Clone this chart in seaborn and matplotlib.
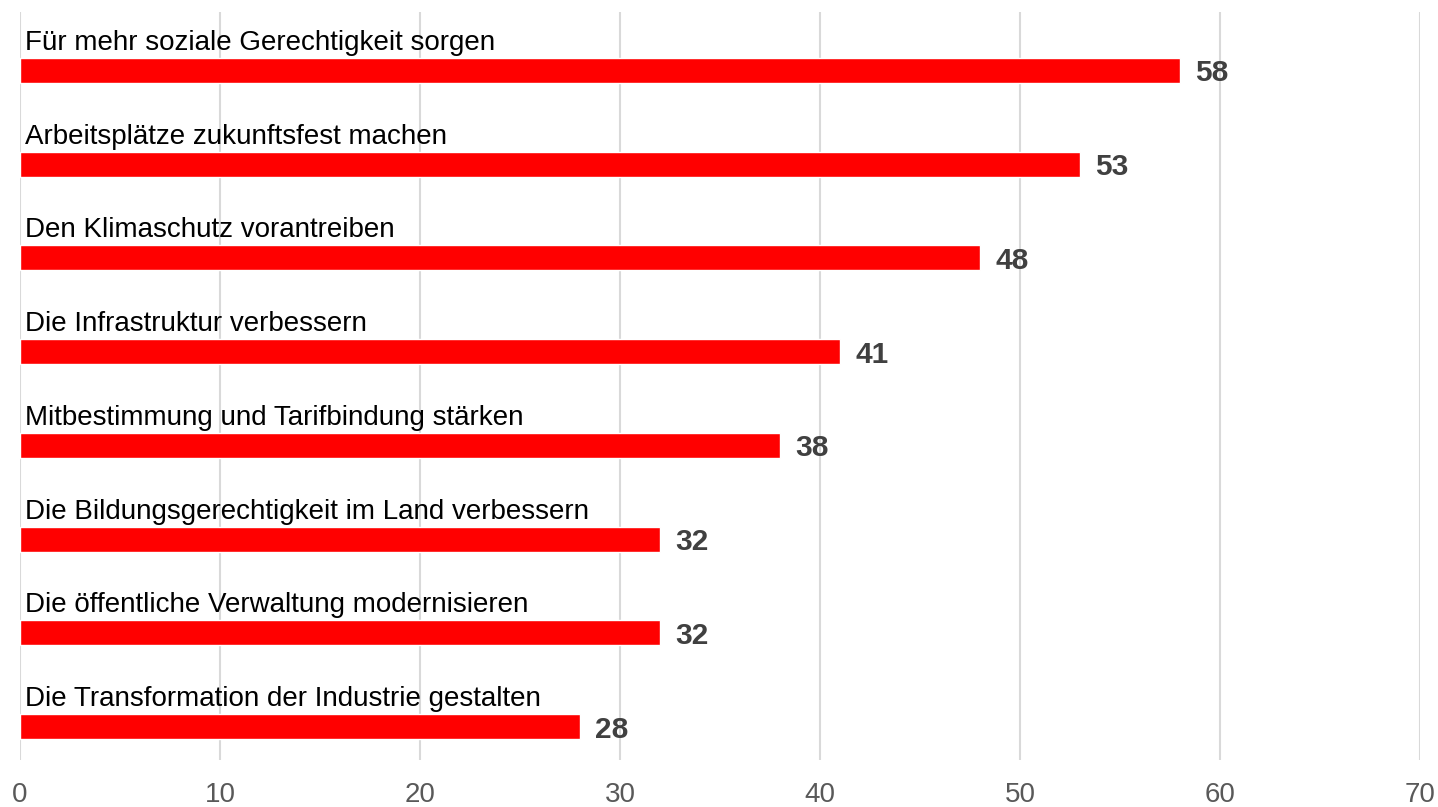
import matplotlib
matplotlib.use("Agg")
import matplotlib.pyplot as plt
import seaborn as sns
import pandas as pd

categories = [
    "Für mehr soziale Gerechtigkeit sorgen",
    "Arbeitsplätze zukunftsfest machen",
    "Den Klimaschutz vorantreiben",
    "Die Infrastruktur verbessern",
    "Mitbestimmung und Tarifbindung stärken",
    "Die Bildungsgerechtigkeit im Land verbessern",
    "Die öffentliche Verwaltung modernisieren",
    "Die Transformation der Industrie gestalten",
]
values = [58, 53, 48, 41, 38, 32, 32, 28]
x_ticks = [0, 10, 20, 30, 40, 50, 60, 70]

df = pd.DataFrame({"cat": categories, "val": values})

sns.set_theme(style="white")
plt.rcParams["font.family"] = ["Liberation Sans", "DejaVu Sans"]

fig = plt.figure(figsize=(14.38, 8.07), dpi=100)
ax = fig.add_axes([20 / 1438, 1 - 760 / 807, 1400 / 1438, (760 - 12) / 807])

sns.barplot(data=df, y="cat", x="val", orient="h", color="#ff0000",
            saturation=1, width=0.267, ax=ax, zorder=3)

ax.set_xlim(0, 70)
ax.set_ylim(7.357, -0.624)
ax.set_xticks(x_ticks)
ax.set_xticklabels([str(t) for t in x_ticks])
ax.tick_params(axis="x", length=0, pad=16, labelsize=20, labelcolor="#595959")
ax.set_yticks([])
ax.set_xlabel("")
ax.set_ylabel("")
for s in ax.spines.values():
    s.set_visible(False)
ax.grid(axis="x", color="#d9d9d9", linewidth=1.5, zorder=0)
ax.set_axisbelow(True)

for i, (c, v) in enumerate(zip(categories, values)):
    ax.text(0.25, i - 0.1335 - 0.085, c, ha="left", va="baseline",
            fontsize=20, color="#000000")
    ax.text(v + 0.75, i, str(v), ha="left", va="center_baseline",
            fontsize=21.5, fontweight="bold", color="#404040")

fig.savefig("out.png", dpi=100)
